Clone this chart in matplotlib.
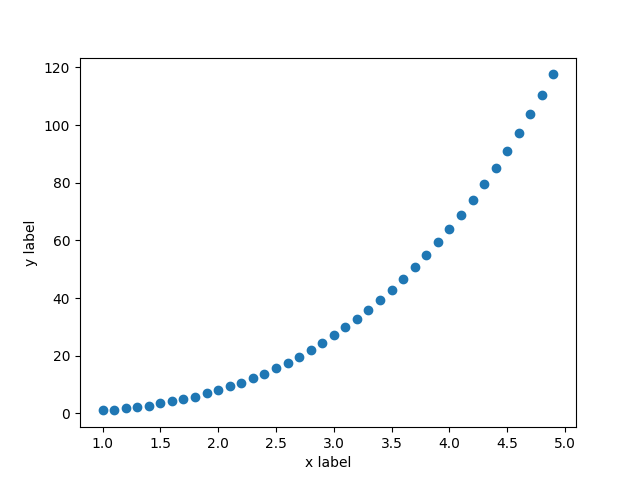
import matplotlib
matplotlib.use("Agg")
import matplotlib.pyplot as plt

x_values = [1.0, 1.1, 1.2, 1.3, 1.4, 1.5, 1.6, 1.7, 1.8, 1.9,
            2.0, 2.1, 2.2, 2.3, 2.4, 2.5, 2.6, 2.7, 2.8, 2.9,
            3.0, 3.1, 3.2, 3.3, 3.4, 3.5, 3.6, 3.7, 3.8, 3.9,
            4.0, 4.1, 4.2, 4.3, 4.4, 4.5, 4.6, 4.7, 4.8, 4.9]
y_values = [1.0, 1.3, 1.7, 2.2, 2.7, 3.4, 4.1, 4.9, 5.8, 6.9,
            8.0, 9.3, 10.6, 12.2, 13.8, 15.6, 17.6, 19.7, 22.0, 24.4,
            27.0, 29.8, 32.8, 35.9, 39.3, 42.9, 46.7, 50.7, 54.9, 59.3,
            64.0, 68.9, 74.1, 79.5, 85.2, 91.1, 97.3, 103.8, 110.6, 117.6]

fig, ax = plt.subplots(figsize=(6.4, 4.8), dpi=100)
ax.scatter(x_values, y_values)
ax.set_xlabel("x label")
ax.set_ylabel("y label")
fig.savefig("out.png")
